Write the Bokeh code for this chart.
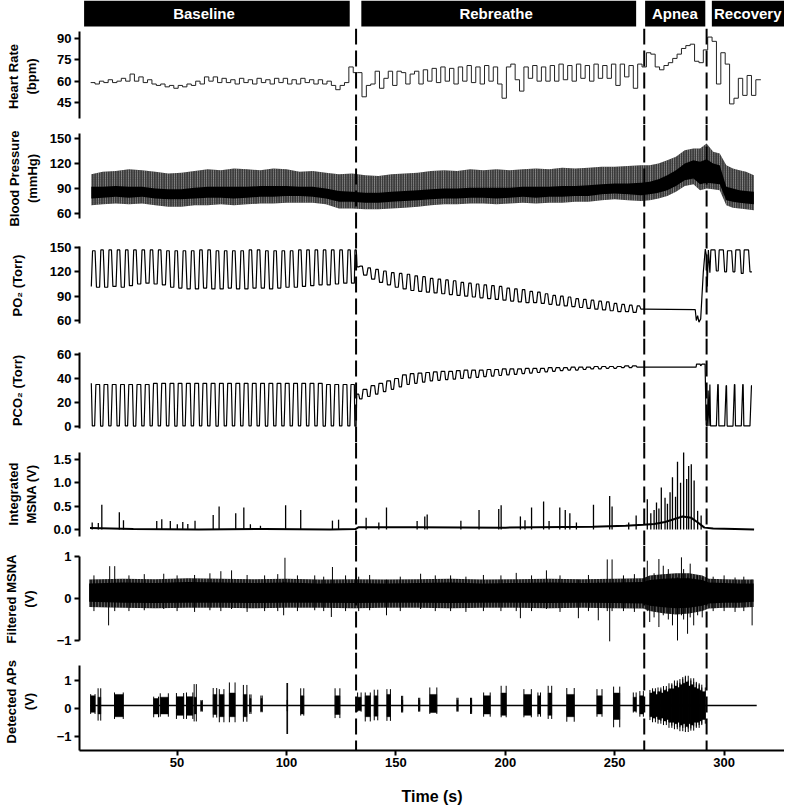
import numpy as np
from bokeh.plotting import figure
from bokeh.models import Range1d, Span, FixedTicker, PrintfTickFormatter
from bokeh.layouts import column
from bokeh.embed import file_html
from bokeh.resources import INLINE
from bokeh.core.properties import value

FONT = "Liberation Sans"

# ---------------- data ----------------
phase_names = ["Baseline", "Rebreathe", "Apnea", "Recovery"]
phase_start = [7.5, 134.2, 263.9, 294.4]
phase_end = [128.9, 259.8, 291.4, 327.6]
phase_label_t = [62.3, 195.8, 277.5, 310.8]
phase_boundaries = [131.8, 263.5, 292.0]
time_ticks = [50, 100, 150, 200, 250, 300]

# heart rate, one value per 2 s step
HR_T0, HR_DT, HR_END = 10.5, 2.0, 316.8
hr_bpm = [59, 58, 60, 59, 61, 59, 60, 62, 60, 65, 60, 63, 59, 61, 58, 57, 58, 56, 57, 55,
          57, 56, 58, 57, 60, 58, 63, 60, 63, 59, 62, 59, 61, 58, 62, 59, 61, 58, 62, 59,
          61, 58, 62, 59, 62, 58, 61, 58, 62, 59, 61, 58, 61, 58, 60, 57, 54, 57, 59, 70,
          66,
          66, 49, 57, 58, 67, 55, 62, 67, 57, 67, 66, 58, 65, 67,
          58, 68, 60, 69, 59, 70, 60, 69, 58, 70, 60, 71, 59, 70, 58, 71, 60, 70, 58, 48,
          70, 72, 61, 53, 70, 62, 71, 60, 70, 60, 71, 60, 72, 61, 71, 60, 72, 62, 71, 60,
          72, 62, 71, 62, 72, 57, 72, 63, 71, 55, 72, 70,
          80, 79, 70, 68, 71, 73, 76, 79, 83, 85, 86, 74, 73, 82, 91,
          88, 58, 80, 72, 44, 48, 62, 50, 64, 50, 61]

# blood pressure envelopes (mmHg)
bp_t = [10.8, 16, 22, 28, 34, 40, 46, 52, 58, 64, 70, 76, 82, 88, 94, 100, 106, 112, 118, 124,
        130, 136, 142, 148, 154, 160, 166, 172, 178, 184, 190, 196, 202, 208, 214, 220, 226, 232,
        238, 244, 250, 256, 262, 266, 270, 274, 278, 282, 286, 289, 292, 295, 298, 301, 304, 307,
        310, 313.6]
bp_sys = [107, 110, 111, 113, 112, 110, 108, 109, 111, 113, 112, 114, 113, 112, 114, 113, 110, 111,
          109, 107, 108, 106, 105, 107, 108, 109, 111, 112, 111, 113, 112, 113, 112, 113, 114, 113,
          115, 114, 115, 116, 116, 117, 118, 118, 120, 124, 128, 136, 138, 138, 144, 134, 132, 118,
          114, 112, 110, 106]
bp_core_hi = [92, 92, 93, 92, 92, 90, 89, 89, 91, 92, 92, 92, 92, 93, 93, 93, 92, 92, 90, 87, 86, 85,
              85, 86, 87, 88, 89, 90, 90, 91, 91, 91, 91, 92, 92, 92, 93, 93, 94, 95, 96, 96, 97, 98,
              101, 106, 112, 120, 124, 122, 125, 120, 118, 92, 90, 88, 87, 86]
bp_core_lo = [78, 79, 80, 79, 80, 78, 77, 77, 78, 79, 79, 78, 79, 80, 80, 81, 81, 80, 78, 74, 74, 73,
              73, 74, 75, 76, 77, 78, 78, 79, 79, 78, 79, 80, 79, 80, 80, 81, 81, 83, 84, 83, 82, 83,
              85, 88, 93, 100, 102, 95, 97, 96, 95, 76, 74, 73, 72, 71]
bp_dia = [70, 71, 72, 71, 72, 70, 68, 68, 70, 70, 71, 70, 71, 72, 72, 73, 73, 73, 71, 66, 66, 65, 65,
          66, 67, 68, 70, 71, 71, 72, 72, 71, 72, 73, 72, 73, 73, 74, 74, 76, 77, 76, 75, 76, 78, 81,
          86, 93, 95, 88, 90, 89, 88, 70, 67, 66, 65, 64]

# breaths during baseline + rebreathe: onset times, value before the breath, inspiratory value
breath_t = [10.8, 14.6, 18.3, 22.1, 25.9, 29.6, 33.4, 37.2, 40.9, 44.7, 48.5, 52.2, 56.0, 59.8,
            63.5, 67.3, 71.1, 74.8, 78.6, 82.4, 86.1, 89.9, 93.7, 97.4, 101.2, 105.0, 108.7, 112.5,
            116.3, 120.0, 123.8, 127.6, 131.0,
            133.0, 136.7, 140.3, 143.9, 147.5, 151.1, 154.7, 158.2, 161.8, 165.3, 168.8, 172.3,
            175.8, 179.3, 182.8, 186.3, 189.8, 193.3, 196.8, 200.3, 203.8, 207.3, 210.8, 214.3,
            217.8, 221.3, 224.8, 228.3, 231.8, 235.3, 238.8, 242.3, 245.8, 249.3, 252.8, 256.3, 259.8]
BREATH_END = 263.3
po2_trough = [102, 101, 101, 102, 101, 103, 105, 106, 105, 104, 101, 100, 99, 99, 100, 99, 99, 100,
              99, 99, 100, 100, 99, 100, 101, 101, 102, 103, 104, 104, 105, 106, 106,
              126, 116, 111, 107, 104, 101, 99, 97, 96, 95, 94, 93, 92, 91, 90, 89, 88, 87, 86, 85,
              84, 83, 82, 82, 81, 80, 79, 78, 77, 76, 75, 74, 73, 72, 71, 71, 70]
po2_peak = [146, 147, 147, 147, 147, 147, 147, 147, 147, 146, 146, 146, 146, 147, 147, 146, 146, 146,
            146, 147, 147, 146, 146, 146, 146, 147, 147, 147, 147, 147, 147, 147, 147,
            127, 125, 123, 121, 119, 118, 117, 115, 114, 112, 111, 110, 109, 107, 106, 105, 104,
            103, 102, 100, 99, 98, 96, 95, 93, 91, 90, 89, 87, 86, 85, 84, 83, 81, 80, 79, 78]
pco2_plateau = [36, 35, 35, 35, 35, 35, 35, 35, 36, 36, 36, 36, 36, 36, 36, 36, 36, 36, 36, 36, 36,
                36, 36, 36, 36, 36, 36, 36, 36, 35, 35, 35, 35,
                27, 31, 34, 36, 38, 40, 43, 44, 44.5, 45, 45.5, 46, 46, 46.5, 47, 47, 47, 47.5, 47.5,
                48, 48, 48, 48.5, 48.5, 48.5, 49, 49, 49, 49.5, 49.5, 49.5, 50, 50, 50, 50, 50.5, 50.5]
pco2_low = [0.5, 0.4, 0.6, 0.5, 0.5, 0.4, 0.5, 0.6, 0.5, 0.5, 0.4, 0.5, 0.5, 0.6, 0.5, 0.4, 0.5,
            0.5, 0.5, 0.6, 0.5, 0.4, 0.5, 0.5, 0.5, 0.6, 0.5, 0.5, 0.4, 0.5, 0.5, 0.5, 0.3,
            23, 25, 27, 29, 31, 33, 35, 36, 37, 38, 38.5, 39, 39.5, 40, 40.5, 41, 41.5, 42, 42.5,
            43, 43.5, 44, 44.5, 45, 45.5, 46, 46.5, 47, 47, 47.5, 48, 48, 48.5, 48.5, 49, 49, 49.5]

# apnea traces
apnea_po2_t = [263.3, 286.8, 287.3, 287.9, 288.5, 289.3, 290.5, 291.4, 291.9, 292.3, 292.8]
apnea_po2 = [74, 73.5, 60, 66, 58, 62, 120, 148, 140, 102, 147]
apnea_pco2_t = [263.3, 287.2, 287.4, 289.0, 289.3, 289.9, 291.3, 291.8, 292.3, 292.7, 293.1]
apnea_pco2 = [49.5, 49.5, 52, 52, 50.5, 52, 52, 1, 0.5, 30, 0.5]

# recovery breaths
rec_t = [293.5, 297.3, 301.1, 304.9, 308.7]
REC_END = 312.7
rec_po2_trough = [119, 121, 120, 120, 118]
rec_po2_peak = [147, 147, 146, 147, 147]
rec_pco2_plateau = [35, 35, 34, 35, 35]
rec_pco2_low = [0.5, 0.5, 0.4, 0.5, 0.5]

# integrated MSNA
int_base_t = [10.2, 30, 60, 90, 120, 131.5, 133, 160, 200, 240, 255, 263, 268, 273, 277, 281, 285,
              288, 291, 295, 305, 313.7]
int_base_v = [0.03, 0.01, 0.0, 0.01, 0.0, 0.01, 0.05, 0.05, 0.04, 0.06, 0.08, 0.1, 0.12, 0.16, 0.22,
              0.28, 0.25, 0.15, 0.04, 0.02, 0.01, 0.0]
int_spk_t = [11.2, 14.0, 15.6, 23.6, 25.5, 40.7, 43.0, 46.9, 50.1, 52.6, 54.9, 58.2, 66.5, 69.2,
             76.8, 80.5, 83.5, 88.1, 99.6, 106.5, 121.0, 123.8, 136.4, 142.2, 145.7, 159.7, 163.2,
             164.3, 179.7, 188.0, 197.0, 198.1, 206.9, 209.0, 212.0, 217.5, 220.0, 224.9, 227.4,
             229.5, 232.5, 240.3, 247.7, 248.8, 256.4, 259.8, 264.9, 266.5, 268.0, 269.1, 270.2,
             271.3, 273.0, 274.1, 275.3, 276.4, 277.8, 278.7, 280.1, 281.5, 282.9, 283.8, 285.0,
             286.3, 287.9, 289.5]
int_spk_h = [0.15, 0.14, 0.53, 0.37, 0.20, 0.18, 0.22, 0.18, 0.11, 0.16, 0.12, 0.19, 0.31, 0.49,
             0.35, 0.47, 0.11, 0.08, 0.52, 0.42, 0.19, 0.21, 0.25, 0.15, 0.47, 0.18, 0.28, 0.32,
             0.19, 0.42, 0.44, 0.52, 0.28, 0.20, 0.47, 0.60, 0.18, 0.47, 0.42, 0.35, 0.15, 0.53,
             0.72, 0.49, 0.15, 0.30, 0.65, 0.35, 0.42, 0.58, 0.45, 0.90, 0.68, 0.55, 0.80, 1.12,
             0.70, 1.45, 1.00, 1.65, 1.08, 1.36, 1.40, 1.05, 0.40, 0.30]

# filtered MSNA envelopes (V)
filt_t = [9.8, 25, 40, 55, 70, 85, 100, 115, 131, 145, 160, 175, 190, 205, 220, 235, 250, 263, 266,
          272, 278, 284, 290, 293, 300, 307, 313.5]
filt_out_hi = [0.45, 0.47, 0.46, 0.48, 0.47, 0.46, 0.47, 0.45, 0.46, 0.45, 0.46, 0.47, 0.45, 0.46,
               0.47, 0.46, 0.47, 0.48, 0.55, 0.58, 0.60, 0.60, 0.55, 0.47, 0.46, 0.45, 0.45]
filt_out_lo = [-0.20, -0.22, -0.23, -0.22, -0.22, -0.23, -0.22, -0.22, -0.23, -0.22, -0.22, -0.23,
               -0.22, -0.22, -0.23, -0.22, -0.23, -0.24, -0.30, -0.35, -0.38, -0.36, -0.30, -0.24,
               -0.22, -0.22, -0.20]
filt_core_hi = [0.36, 0.38, 0.37, 0.39, 0.38, 0.37, 0.38, 0.36, 0.37, 0.36, 0.37, 0.38, 0.36, 0.37,
                0.38, 0.37, 0.38, 0.39, 0.44, 0.47, 0.48, 0.48, 0.44, 0.38, 0.37, 0.36, 0.36]
filt_core_lo = [-0.08, -0.10, -0.11, -0.10, -0.10, -0.11, -0.10, -0.10, -0.11, -0.10, -0.10, -0.11,
                -0.10, -0.10, -0.11, -0.10, -0.11, -0.12, -0.17, -0.21, -0.23, -0.22, -0.17, -0.12,
                -0.10, -0.10, -0.08]
filt_spk_t = [12.0, 18.7, 19.2, 21.5, 28.0, 35.0, 43.9, 50.0, 58.0, 65.0, 70.0, 74.9, 82.0, 90.0,
              96.0, 98.7, 99.3, 105.0, 112.9, 117.0, 120.5, 121.0, 127.0, 133.0, 138.0, 145.7,
              152.0, 161.3, 168.0, 175.0, 182.0, 190.0, 198.0, 205.0, 206.9, 212.0, 218.8, 225.0,
              233.4, 238.0, 242.5, 246.6, 247.7, 248.8, 254.0, 259.0, 264.9, 266.0, 268.0, 270.2,
              272.2, 274.5, 276.4, 278.7, 280.5, 281.5, 283.3, 284.5, 286.1, 287.9, 290.0, 295.0,
              300.0, 305.0, 309.0, 312.8]
filt_spk_lo = [-0.30, -0.64, 0.10, -0.30, -0.30, -0.28, -0.25, -0.30, -0.32, -0.28, -0.30, -0.25,
               -0.32, -0.30, -0.30, -0.40, 0.10, -0.30, -0.28, -0.30, -0.44, 0.10, -0.30, -0.30,
               -0.28, -0.40, -0.30, -0.25, -0.30, -0.30, -0.32, -0.30, -0.30, -0.30, -0.47, -0.30,
               -0.25, -0.32, -0.47, -0.30, -0.52, -0.30, -1.02, -0.30, -0.30, -0.32, -0.30, -0.56,
               -0.45, -0.68, -0.40, -0.50, -0.64, -1.00, -0.40, -0.50, -0.84, -0.45, -0.64, -0.40,
               -0.45, -0.30, -0.30, -0.32, -0.30, -0.64]
filt_spk_hi = [0.55, 0.30, 0.77, 0.77, 0.55, 0.58, 0.59, 0.55, 0.56, 0.60, 0.65, 0.67, 0.56, 0.55,
               0.58, 0.40, 0.97, 0.55, 0.55, 0.52, 0.30, 0.75, 0.55, 0.52, 0.56, 0.45, 0.52, 0.59,
               0.55, 0.55, 0.52, 0.56, 0.55, 0.61, 0.30, 0.55, 0.67, 0.55, 0.45, 0.56, 0.40, 0.93,
               0.30, 0.93, 0.55, 0.58, 0.90, 0.40, 0.60, 0.94, 0.78, 0.70, 0.50, 0.50, 0.98, 0.70,
               0.50, 0.83, 0.50, 0.55, 0.50, 0.52, 0.55, 0.50, 0.52, 0.45]

# detected action potentials: bursts (start, end), tallest spike extent and dense core extent
ap_t0 = [10.5, 13.9, 21.4, 39.3, 42.3, 49.7, 54.3, 57.8, 60.9, 66.5, 69.3, 73.9, 80.3, 83.2, 88.3,
         100.2, 106.5, 122.2, 132.5, 136.0, 140.1, 145.9, 152.6, 160.4, 165.5, 177.9, 184.1, 190.1,
         198.1, 208.5, 214.9, 219.6, 228.1, 241.9, 249.5, 258.5, 261.5,
         266.1, 267.3, 268.6, 269.8, 271.1, 272.3, 273.6, 274.8, 276.1, 277.3, 278.6, 279.8,
         281.1, 282.3, 283.6, 284.8, 286.1, 287.3, 288.6, 289.8]
ap_t1 = [12.5, 15.1, 25.4, 41.5, 46.0, 53.0, 57.2, 58.8, 61.5, 68.1, 71.4, 76.5, 81.9, 83.8, 88.9,
         100.5, 107.9, 124.4, 134.1, 138.3, 141.7, 147.5, 153.1, 160.9, 168.7, 178.4, 184.6, 193.1,
         200.4, 211.9, 216.1, 221.2, 231.5, 244.2, 252.3, 259.8, 263.1,
         267.3, 268.6, 269.8, 271.1, 272.3, 273.6, 274.8, 276.1, 277.3, 278.6, 279.8, 281.1,
         282.3, 283.6, 284.8, 286.1, 287.3, 288.6, 289.8, 291.4]
ap_lo = [-0.20, -0.44, -0.38, -0.32, -0.30, -0.38, -0.38, -0.47, -0.12, -0.33, -0.50, -0.50, -0.48,
         -0.20, -0.14, -0.92, -0.26, -0.35, -0.12, -0.47, -0.43, -0.45, -0.15, -0.12, -0.20, -0.12,
         -0.20, -0.30, -0.32, -0.32, -0.30, -0.38, -0.48, -0.30, -0.68, -0.15, -0.30,
         -0.42, -0.50, -0.38, -0.55, -0.45, -0.60, -0.50, -0.70, -0.62, -0.75, -0.68, -0.82,
         -0.70, -0.85, -0.72, -0.80, -0.65, -0.70, -0.60, -0.55]
ap_hi = [0.51, 0.72, 0.57, 0.42, 0.54, 0.55, 0.57, 0.87, 0.30, 0.73, 0.69, 0.93, 0.84, 0.50, 0.46,
         0.91, 0.72, 0.72, 0.57, 0.57, 0.67, 0.69, 0.45, 0.38, 0.75, 0.38, 0.38, 0.57, 0.81, 0.69,
         0.57, 0.81, 0.73, 0.69, 0.78, 0.57, 0.62,
         0.66, 0.72, 0.60, 0.75, 0.68, 0.80, 0.70, 0.90, 0.85, 1.00, 0.92, 1.05, 1.12, 1.17, 1.00,
         1.08, 0.95, 0.90, 0.85, 0.75]
ap_core_lo = [-0.14, -0.20, -0.30, -0.20, -0.20, -0.25, -0.25, -0.20, -0.08, -0.22, -0.30, -0.30,
              -0.30, -0.12, -0.10, -0.10, -0.20, -0.22, -0.08, -0.30, -0.28, -0.30, -0.10, -0.08,
              -0.15, -0.08, -0.12, -0.20, -0.25, -0.25, -0.20, -0.25, -0.30, -0.20, -0.40, -0.10,
              -0.20,
              -0.30, -0.35, -0.30, -0.40, -0.35, -0.45, -0.40, -0.50, -0.50, -0.55, -0.50, -0.60,
              -0.55, -0.65, -0.55, -0.60, -0.50, -0.50, -0.45, -0.40]
ap_core_hi = [0.45, 0.40, 0.50, 0.35, 0.40, 0.42, 0.42, 0.40, 0.25, 0.50, 0.50, 0.55, 0.50, 0.35,
              0.35, 0.30, 0.45, 0.45, 0.40, 0.45, 0.45, 0.50, 0.30, 0.30, 0.50, 0.30, 0.30, 0.45,
              0.55, 0.50, 0.45, 0.55, 0.50, 0.45, 0.55, 0.40, 0.45,
              0.55, 0.60, 0.50, 0.60, 0.55, 0.65, 0.60, 0.70, 0.70, 0.80, 0.75, 0.85, 0.90, 0.95,
              0.80, 0.85, 0.75, 0.70, 0.65, 0.60]
ap_line_t = [10.2, 314.9]
ap_line_v = [0.1, 0.1]


# ---------------- helpers ----------------
def breath_trace(onsets, before, during, t_end, v_end, a, b, c):
    xs, ys = [], []
    n = len(onsets)
    for i in range(n):
        t0 = onsets[i]
        t1 = onsets[i + 1] if i + 1 < n else t_end
        nxt = before[i + 1] if i + 1 < n else v_end
        P = t1 - t0
        xs += [t0, t0 + a * P, t0 + b * P, t0 + c * P]
        ys += [before[i], during[i], during[i], nxt]
    xs.append(t_end)
    ys.append(v_end)
    return xs, ys


W = 784
LB = 70
x_range = Range1d(5.4, 327.6)


def make_fig(h, yr, bottom=0, xaxis=False, yaxis=True):
    p = figure(width=W, height=h, x_range=x_range, y_range=Range1d(*yr),
               toolbar_location=None, output_backend="svg",
               x_axis_location="below" if xaxis else None,
               y_axis_location="left" if yaxis else None,
               min_border_left=LB, min_border_right=0, min_border_top=0,
               min_border_bottom=bottom, outline_line_color=None,
               background_fill_color="white", border_fill_color="white")
    p.grid.visible = False
    return p


def add_bounds(p):
    for t in phase_boundaries:
        p.add_layout(Span(location=t, dimension="height", line_color="black",
                          line_width=2, line_dash="16 6"))


def style_y(p, label, ticks, bounds, standoff, fmt=None):
    ax = p.yaxis[0]
    ax.ticker = FixedTicker(ticks=ticks)
    if fmt:
        ax.formatter = PrintfTickFormatter(format=fmt)
    ax.bounds = bounds
    ax.axis_label = label
    ax.axis_label_standoff = int(round(standoff))
    ax.axis_label_text_font = FONT
    ax.axis_label_text_font_style = "bold"
    ax.axis_label_text_font_size = "13px"
    ax.axis_label_text_color = "black"
    ax.major_label_text_font = FONT
    ax.major_label_text_font_style = "bold"
    ax.major_label_text_font_size = "13px"
    ax.major_label_text_color = "black"
    ax.major_label_standoff = 3
    ax.major_tick_out = 5
    ax.major_tick_in = 0
    ax.minor_tick_out = 0
    ax.minor_tick_in = 0
    ax.axis_line_width = 2
    ax.major_tick_line_width = 2


# ---------------- phase bars ----------------
pb = make_fig(28, (0, 1), yaxis=False)
pb.quad(left=phase_start, right=phase_end, bottom=0.07, top=1, fill_color="black", line_color=None)
pb.text(x=phase_label_t, y=0.53, text=phase_names, text_color="white",
        text_font=value(FONT), text_font_style="bold", text_font_size="15px",
        text_align="center", text_baseline="middle")

# ---------------- heart rate ----------------
p_hr = make_fig(96, (29.53, 97.03))
hr_t = list(HR_T0 + HR_DT * np.arange(len(hr_bpm))) + [HR_END]
p_hr.step(hr_t, list(hr_bpm) + [hr_bpm[-1]], mode="after", line_color="#222222", line_width=1)
style_y(p_hr, "Heart Rate\n(bpm)", [45, 60, 75, 90], (34, 95), 15)
add_bounds(p_hr)

# ---------------- blood pressure ----------------
p_bp = make_fig(108, (37.2, 166.8))
p_bp.varea(x=bp_t, y1=bp_dia, y2=bp_sys, fill_color="#3a3a3a", hatch_pattern="|",
           hatch_color="white", hatch_alpha=0.55, hatch_scale=2.3, hatch_weight=0.8)
p_bp.varea(x=bp_t, y1=bp_core_lo, y2=bp_core_hi, fill_color="black")
style_y(p_bp, "Blood Pressure\n(mmHg)", [60, 90, 120, 150], (54, 156), 7)
add_bounds(p_bp)

# ---------------- PO2 ----------------
p_o2 = make_fig(106, (37.8, 168.5))
x1, y1 = breath_trace(breath_t, po2_trough, po2_peak, BREATH_END, apnea_po2[0], 0.15, 0.45, 0.62)
x3, y3 = breath_trace(rec_t, rec_po2_trough, rec_po2_peak, REC_END, 120, 0.12, 0.62, 0.78)
p_o2.line(x1 + apnea_po2_t + x3, y1 + apnea_po2 + y3, line_color="black", line_width=1.2)
style_y(p_o2, "PO\u2082 (Torr)", [60, 90, 120, 150], (56, 151), 22)
add_bounds(p_o2)

# ---------------- PCO2 ----------------
p_co2 = make_fig(104, (-13.3, 73.3))
x1, y1 = breath_trace(breath_t, pco2_plateau, pco2_low, BREATH_END, apnea_pco2[0], 0.12, 0.40, 0.55)
x3, y3 = breath_trace(rec_t, rec_pco2_plateau, rec_pco2_low, REC_END, 34, 0.08, 0.78, 0.95)
p_co2.line(x1 + apnea_pco2_t + x3, y1 + apnea_pco2 + y3, line_color="black", line_width=1.2)
style_y(p_co2, "PCO\u2082 (Torr)", [0, 20, 40, 60], (-2, 62), 29)
add_bounds(p_co2)

# ---------------- integrated MSNA ----------------
p_int = make_fig(103, (-0.343, 1.864))
p_int.segment(x0=int_spk_t, y0=0.0, x1=int_spk_t, y1=int_spk_h, line_color="black", line_width=1.3)
p_int.line(int_base_t, int_base_v, line_color="black", line_width=2)
style_y(p_int, "Integrated\nMSNA (V)", [0, 0.5, 1.0, 1.5], (-0.14, 1.66), 11, fmt="%.1f")
add_bounds(p_int)

# ---------------- filtered MSNA ----------------
p_f = make_fig(107, (-1.286, 1.262))
p_f.varea(x=filt_t, y1=filt_out_lo, y2=filt_out_hi, fill_color="#1e1e1e", hatch_pattern="|",
          hatch_color="white", hatch_alpha=0.35, hatch_scale=3, hatch_weight=0.8)
p_f.varea(x=filt_t, y1=filt_core_lo, y2=filt_core_hi, fill_color="black")
p_f.segment(x0=filt_spk_t, y0=filt_spk_lo, x1=filt_spk_t, y1=filt_spk_hi,
            line_color="black", line_width=1)
style_y(p_f, "Filtered MSNA\n(V)", [-1, 0, 1], (-1, 1), 17)
add_bounds(p_f)

# ---------------- detected APs ----------------
p_ap = make_fig(156, (-1.513, 2.005), bottom=58, xaxis=True)
p_ap.quad(left=ap_t0, right=ap_t1, bottom=ap_core_lo, top=ap_core_hi,
          fill_color="black", line_color="black", line_width=0.5)
p_ap.segment(x0=ap_t0, y0=ap_lo, x1=ap_t0, y1=ap_hi, line_color="black", line_width=1)
p_ap.segment(x0=ap_t1, y0=ap_lo, x1=ap_t1, y1=ap_hi, line_color="black", line_width=1)
p_ap.line(ap_line_t, ap_line_v, line_color="black", line_width=1.6)
style_y(p_ap, "Detected APs\n(V)", [-1, 0, 1], (-1.513, 1.54), 17)
add_bounds(p_ap)
xa = p_ap.xaxis[0]
xa.ticker = FixedTicker(ticks=time_ticks)
xa.axis_label = "Time (s)"
xa.axis_label_text_font = FONT
xa.axis_label_text_font_style = "bold"
xa.axis_label_text_font_size = "16px"
xa.axis_label_text_color = "black"
xa.axis_label_standoff = 18
xa.major_label_text_font = FONT
xa.major_label_text_font_style = "bold"
xa.major_label_text_font_size = "13px"
xa.major_label_text_color = "black"
xa.major_label_standoff = 2
xa.major_tick_out = 5
xa.major_tick_in = 0
xa.minor_tick_out = 0
xa.minor_tick_in = 0
xa.axis_line_width = 2
xa.major_tick_line_width = 2

layout = column(pb, p_hr, p_bp, p_o2, p_co2, p_int, p_f, p_ap, spacing=0)
open("out.html", "w").write(file_html(layout, INLINE))
